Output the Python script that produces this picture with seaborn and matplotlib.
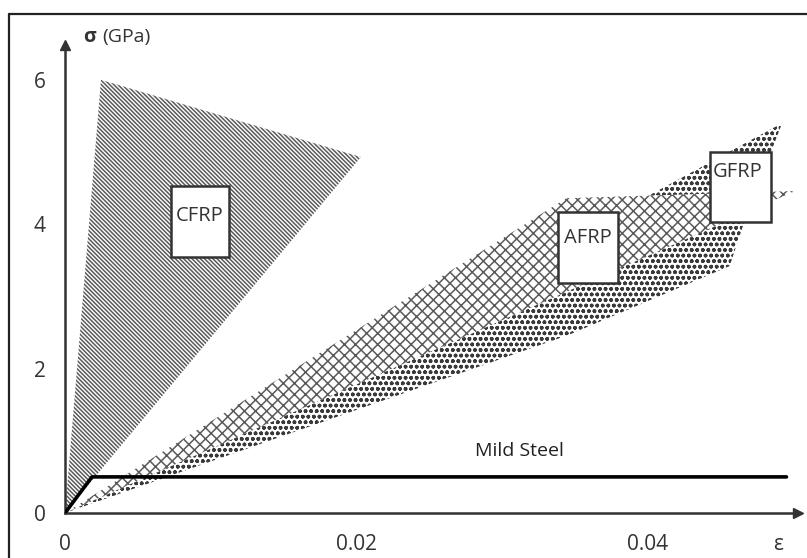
import matplotlib
matplotlib.use("Agg")
import matplotlib.pyplot as plt
import seaborn as sns
import numpy as np
import pandas as pd
from matplotlib.patches import Rectangle
from matplotlib.lines import Line2D

# stress-strain envelopes, strain [-] vs stress [GPa]
cfrp_eps = [0.0, 0.00247, 0.0203]
cfrp_sig = [0.0, 6.00, 4.93]

afrp_eps = [0.0, 0.0344, 0.0501]
afrp_sig = [0.0, 4.36, 4.46]

gfrp_eps = [0.0, 0.0492, 0.0466, 0.0456, 0.0346]
gfrp_sig = [0.0, 5.40, 4.03, 3.42, 2.47]

steel_eps = [0.0, 0.00185, 0.0495]
steel_sig = [0.0, 0.50, 0.50]

x_ticks = [0.0, 0.01, 0.02, 0.03, 0.04]
x_ticklabels = ['0', '', '0.02', '', '0.04']
y_ticks = [0, 2, 4, 6]
y_ticklabels = ['0', '2', '4', '6']

# label boxes: (x0, y0, x1, y1) in data units, text anchor
boxes = {
    'CFRP': ((0.00727, 3.55, 0.01125, 4.53), (0.00926, 4.11)),
    'AFRP': ((0.03383, 3.19, 0.03794, 4.17), (0.03588, 3.81)),
    'GFRP': ((0.04425, 4.03, 0.04844, 5.00), (0.04618, 4.72)),
}

sns.set_theme(style='white')
plt.rcParams['font.family'] = ['Open Sans', 'DejaVu Sans']
plt.rcParams['hatch.linewidth'] = 1.1

W, H = 807, 558
fig = plt.figure(figsize=(W / 100, H / 100), dpi=100)
x0px, y0px, xendpx, ytoppx = 65, 513, 798, 45
ax = fig.add_axes([x0px / W, (H - y0px) / H, (xendpx - x0px) / W, (y0px - ytoppx) / H])
px_per_eps = 14575.0
px_per_gpa = 72.2
ax.set_xlim(0, (xendpx - x0px) / px_per_eps)
ax.set_ylim(0, (y0px - ytoppx) / px_per_gpa)
ax.set_facecolor('none')

# GFRP (dots), AFRP (cross-hatch on white), CFRP (fine diagonal)
ax.fill(gfrp_eps, gfrp_sig, facecolor='white', edgecolor='#3a3a3a', hatch='ooo', lw=0, zorder=1)
ax.fill(afrp_eps, afrp_sig, facecolor='white', edgecolor='#5a5a5a', hatch='xxx', lw=0, zorder=2)
ax.fill(cfrp_eps, cfrp_sig, facecolor='white', edgecolor='#5a5a5a', hatch='\\' * 8, lw=0, zorder=2)

steel = pd.DataFrame({'eps': steel_eps, 'sig': steel_sig})
sns.lineplot(data=steel, x='eps', y='sig', ax=ax, color='black', lw=2.6,
             sort=False, estimator=None, zorder=4)
ax.text(0.03115, 0.79, 'Mild Steel', fontsize=14, ha='center', va='baseline', color='#222222')

for name, ((bx0, by0, bx1, by1), (tx, ty)) in boxes.items():
    ax.add_patch(Rectangle((bx0, by0), bx1 - bx0, by1 - by0, facecolor='white',
                           edgecolor='#333333', lw=1.8, zorder=5))
    ax.text(tx, ty, name, fontsize=14.5, ha='center', va='center', color='#333333', zorder=6)

# axes as arrows
for s in ['top', 'right']:
    ax.spines[s].set_visible(False)
for s in ['left', 'bottom']:
    ax.spines[s].set_color('#333333')
    ax.spines[s].set_linewidth(1.8)
    ax.spines[s].set_zorder(3)
ax.plot(1, 0, '>', color='#333333', ms=7, transform=ax.transAxes, clip_on=False, zorder=6)
ax.plot(0, 1, '^', color='#333333', ms=7, transform=ax.transAxes, clip_on=False, zorder=6)

ax.set_xticks(x_ticks)
ax.set_xticklabels(x_ticklabels)
ax.set_yticks(y_ticks)
ax.set_yticklabels(y_ticklabels)
ax.tick_params(axis='both', direction='inout', length=12, width=1.5, color='#333333',
               labelsize=15, labelcolor='#333333')
ax.tick_params(axis='x', pad=9)
ax.tick_params(axis='y', pad=8)
ax.set_xlabel('')
ax.set_ylabel('')

fig.text(778 / W, 1 - 545 / H, 'ε', fontsize=15, ha='center', va='center', color='#333333')
fig.text(83 / W, 1 - 37 / H, 'σ', fontsize=14, fontweight='bold', ha='left', va='center', color='#333333')
fig.text(102 / W, 1 - 37 / H, '(GPa)', fontsize=14, ha='left', va='center', color='#333333')

# outer frame (top and left edges visible)
fig.add_artist(Line2D([9 / W, 1.0], [1 - 14 / H, 1 - 14 / H], transform=fig.transFigure, color='#222222', lw=1.6))
fig.add_artist(Line2D([9 / W, 9 / W], [1 - 14 / H, 0.0], transform=fig.transFigure, color='#222222', lw=1.6))

fig.savefig('out.png', dpi=100)
